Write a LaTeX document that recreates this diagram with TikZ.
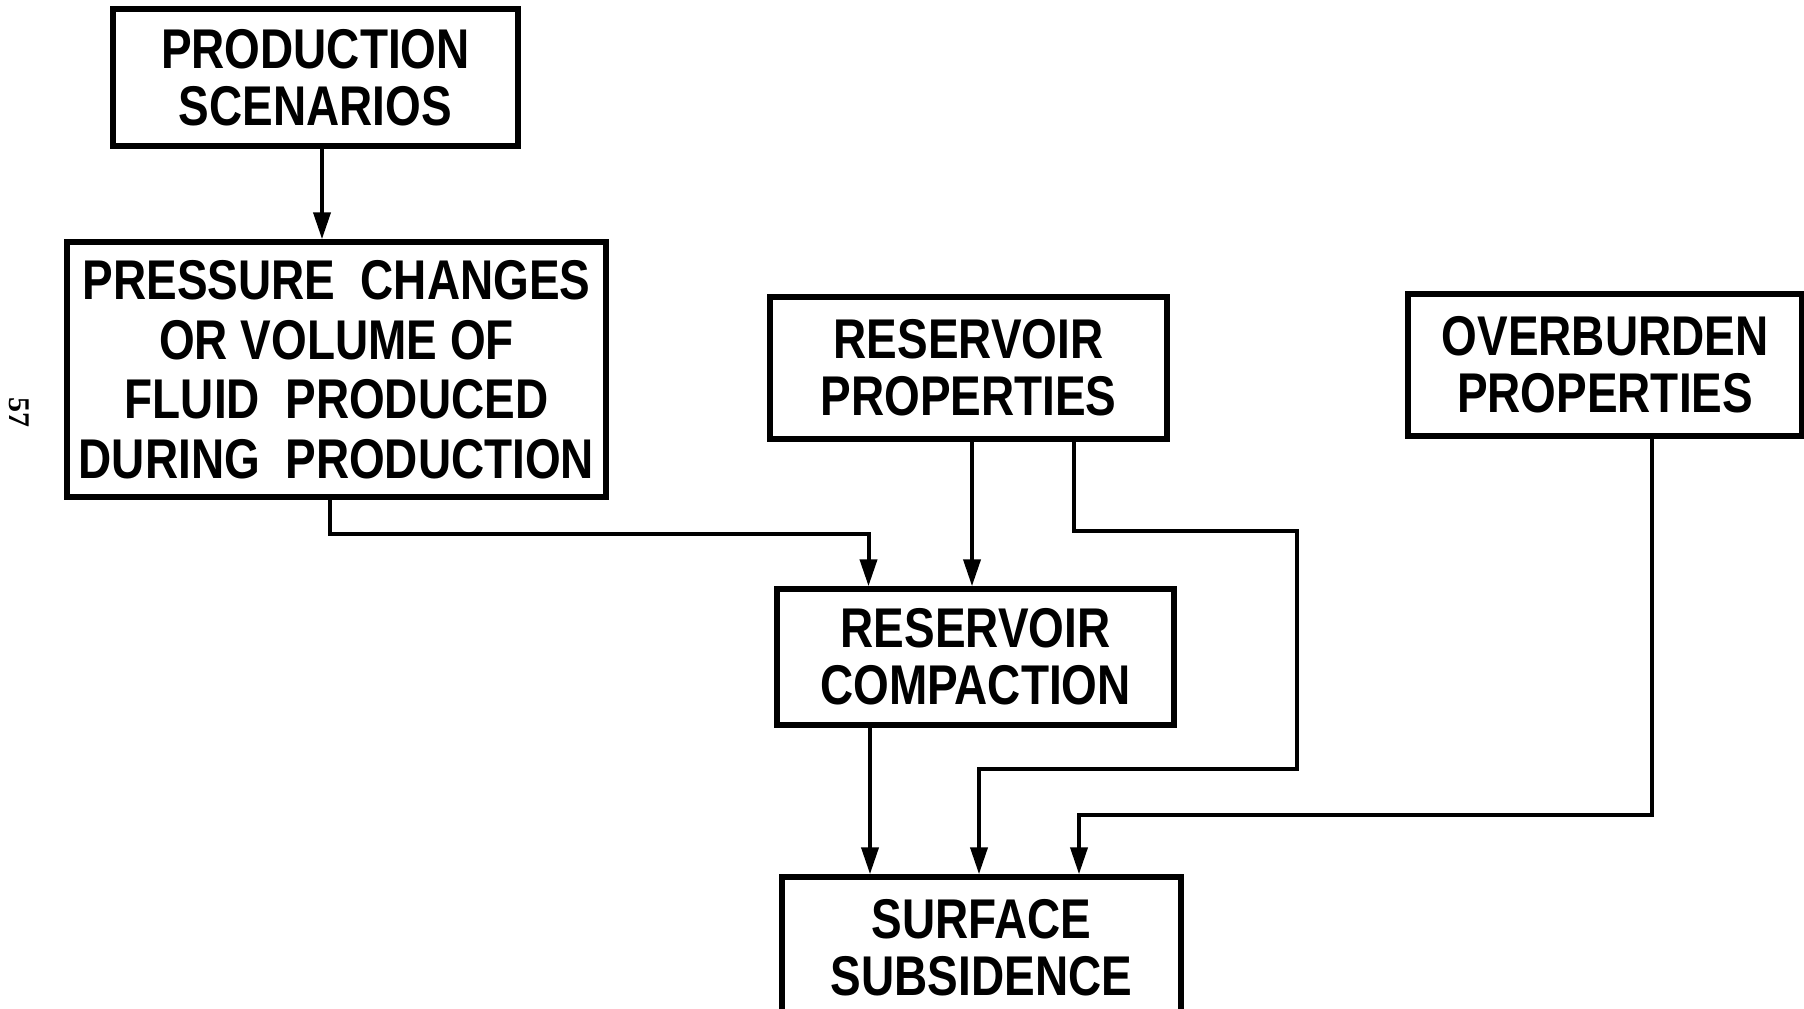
\documentclass[tikz,border=0pt]{standalone}
\usepackage{fontspec}
\usetikzlibrary{arrows.meta,calc}
\newfontfamily\lblfont{Liberation Sans}[FakeStretch=0.82]
\newfontfamily\pagefont{Liberation Serif}
\begin{document}
\begin{tikzpicture}[x=1pt,y=-1pt,
  box/.style={draw=black,line width=5.5pt,fill=white,inner sep=0pt,align=center,
    font=\lblfont\bfseries\fontsize{56}{57}\selectfont},
  conn/.style={draw=black,line width=4pt},
  arr/.style={conn,-{Triangle[length=27pt,width=17pt]}}]
\fill[white] (0,0) rectangle (1804,1009);
\clip (0,0) rectangle (1804,1009);
\node[box,minimum width=405pt,minimum height=137pt] (ps) at (315.5,77.5) {PRODUCTION\\SCENARIOS};
\node[box,minimum width=539pt,minimum height=255pt,
  font=\lblfont\bfseries\fontsize{56}{59.5}\selectfont] (pc) at (336.5,369.5)
  {PRESSURE\ \ CHANGES\\OR VOLUME OF\\FLUID\ \ PRODUCED\\DURING\ \ PRODUCTION};
\node[box,minimum width=397pt,minimum height=142pt] (rp) at (968.5,368) {RESERVOIR\\PROPERTIES};
\node[box,minimum width=394pt,minimum height=142pt] (op) at (1605,365) {OVERBURDEN\\PROPERTIES};
\node[box,minimum width=397pt,minimum height=136pt] (rc) at (975.5,657) {RESERVOIR\\COMPACTION};
\node[box,minimum width=399pt,minimum height=142pt] (ss) at (981.5,948) {SURFACE\\SUBSIDENCE};
\node[font=\pagefont\bfseries\fontsize{30}{32}\selectfont,rotate=-90] (pg) at (19,412) {57};
% connectors
\coordinate (c1) at ([xshift=6.5pt]ps.south);
\draw[arr] (c1) -- (c1 |- pc.north);
\coordinate (c2a) at ([xshift=-6.5pt]pc.south);
\coordinate (c2b) at ([xshift=-107pt]rc.north);
\draw[arr] (c2a) -- ++(0,34) -| (c2b);
\coordinate (c3) at ([xshift=3.5pt]rp.south);
\draw[arr] (c3) -- (c3 |- rc.north);
\coordinate (c4a) at ([xshift=105.5pt]rp.south);
\coordinate (c4e) at ([xshift=-2.5pt]ss.north);
\draw[arr] (c4a) -- ++(0,89) -- ++(223,0) |- ($(c4e)+(0,-105)$) -- (c4e);
\coordinate (c5) at ([xshift=-105.5pt]rc.south);
\draw[arr] (c5) -- (c5 |- ss.north);
\coordinate (c6a) at ([xshift=47pt]op.south);
\coordinate (c6e) at ([xshift=97.5pt]ss.north);
\draw[arr] (c6a) |- ($(c6e)+(0,-59)$) -- (c6e);
\end{tikzpicture}
\end{document}
